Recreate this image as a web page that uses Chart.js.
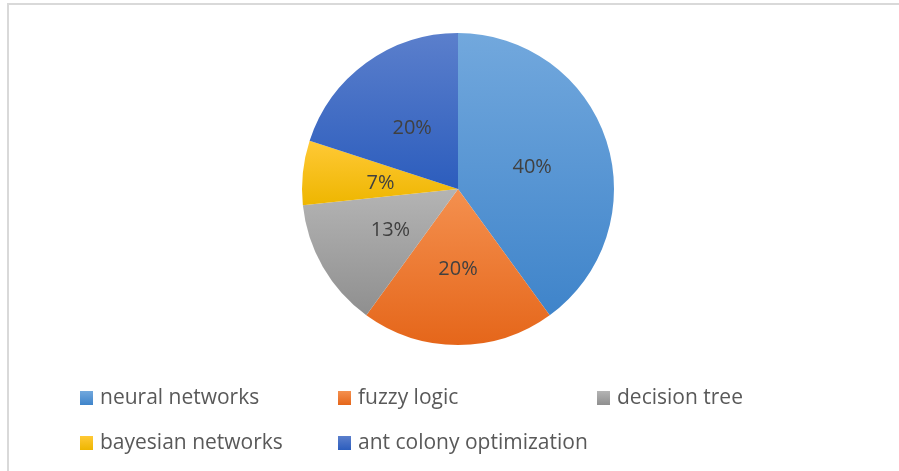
<!DOCTYPE html>
<html>
<head>
<meta charset="utf-8">
<script src="https://cdn.jsdelivr.net/npm/chart.js@4.4.1/dist/chart.umd.min.js"></script>
<style>
  html, body { margin: 0; padding: 0; background: #fff; }
  #wrap { position: relative; width: 899px; height: 471px; overflow: hidden; }
  #frame { position: absolute; left: 7px; top: 3px; width: 900px; height: 480px;
           border-left: 2px solid #d9d9d9; border-top: 2px solid #d9d9d9; }
  #chartBox { position: absolute; left: 0; top: 0; width: 899px; height: 471px; }
  .item { position: absolute; font-family: "Open Sans", sans-serif; font-size: 21px;
          color: #595959; white-space: nowrap; line-height: 20px; }
  .item span.box { display: inline-block; width: 13px; height: 14px; margin-right: 7px; vertical-align: -1px; }
</style>
</head>
<body>
<div id="wrap">
  <div id="frame"></div>
  <div id="chartBox"><canvas id="myChart"></canvas></div>
  <div id="legend"></div>
</div>
<script>
// categories and values (percent labels come from these counts)
labelsList = ["neural networks", "fuzzy logic", "decision tree", "bayesian networks", "ant colony optimization"]
valuesList = [6, 3, 2, 1, 3]
topColors = ["#72a8dd", "#f4904f", "#b4b4b4", "#ffc936", "#5b7fcc"]
bottomColors = ["#3f84ca", "#e5661a", "#8f8f8f", "#eeb600", "#2c5dbd"]
legendX = [80, 338, 597, 80, 338]
legendY = [386, 386, 386, 431, 431]

const total = valuesList.reduce((a, b) => a + b, 0)

// vertical extent of one slice (angles measured clockwise from the top)
function sliceExtent(i, cy, r) {
  let before = 0
  for (let k = 0; k < i; k++) before += valuesList[k]
  const a0 = before / total * Math.PI * 2
  const a1 = (before + valuesList[i]) / total * Math.PI * 2
  const ys = [cy, cy - Math.cos(a0) * r, cy - Math.cos(a1) * r]
  if (a0 <= 0) ys.push(cy - r)
  if (a0 <= Math.PI && a1 >= Math.PI) ys.push(cy + r)
  return [Math.min(...ys), Math.max(...ys)]
}

function sliceFill(context) {
  const chart = context.chart
  const area = chart.chartArea
  if (!area) return topColors[context.dataIndex]
  const cy = (area.top + area.bottom) / 2
  const r = Math.min(area.right - area.left, area.bottom - area.top) / 2
  const ext = sliceExtent(context.dataIndex, cy, r)
  const g = chart.ctx.createLinearGradient(0, ext[0], 0, ext[1])
  g.addColorStop(0, topColors[context.dataIndex])
  g.addColorStop(1, bottomColors[context.dataIndex])
  return g
}

// percent labels in the middle of each slice
const pctLabels = {
  id: "pctLabels",
  afterDatasetsDraw(chart) {
    const ctx = chart.ctx
    const meta = chart.getDatasetMeta(0)
    ctx.save()
    ctx.font = '20px "Open Sans", sans-serif'
    ctx.fillStyle = "#404040"
    ctx.textAlign = "center"
    ctx.textBaseline = "middle"
    meta.data.forEach((arc, i) => {
      const p = arc.tooltipPosition()
      ctx.fillText(Math.round(valuesList[i] / total * 100) + "%", p.x, p.y + 2)
    })
    ctx.restore()
  }
}

new Chart(document.getElementById("myChart"), {
  type: "pie",
  data: {
    labels: labelsList,
    datasets: [{
      data: valuesList,
      backgroundColor: sliceFill,
      borderWidth: 0
    }]
  },
  options: {
    responsive: true,
    maintainAspectRatio: false,
    animation: false,
    layout: { padding: { left: 302, right: 285, top: 33, bottom: 126 } },
    plugins: {
      legend: { display: false },
      tooltip: { enabled: false }
    }
  },
  plugins: [pctLabels]
})

// legend in the two-row grid below the pie
const legend = document.getElementById("legend")
labelsList.forEach((name, i) => {
  const d = document.createElement("div")
  d.className = "item"
  d.style.left = legendX[i] + "px"
  d.style.top = legendY[i] + "px"
  d.innerHTML = '<span class="box" style="background:linear-gradient(' + topColors[i] + ',' + bottomColors[i] + ')"></span>' + name
  legend.appendChild(d)
})
</script>
</body>
</html>
